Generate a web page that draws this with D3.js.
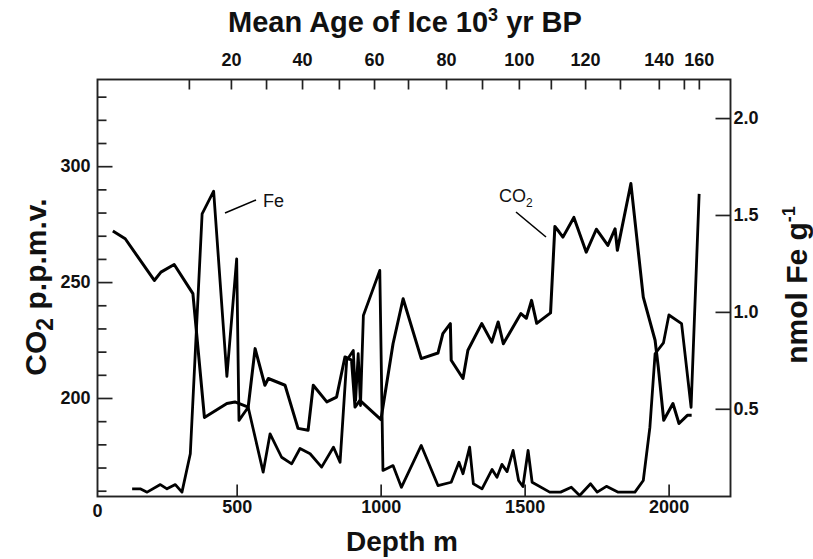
<!DOCTYPE html>
<html><head><meta charset="utf-8">
<script src="https://cdn.jsdelivr.net/npm/d3@7"></script>
<style>body{margin:0;background:#fff}svg{display:block}</style>
</head><body><svg id="c" width="813" height="559"></svg>
<script>
// ---- data (depth in m) ----
const co2Depth = [70,113,214,237,283,348,388,466,494,540,564,598,610,668,713,748,766,813,847,876,899,911,928,1001,1043,1078,1141,1199,1216,1242,1245,1286,1303,1351,1386,1408,1426,1487,1506,1524,1542,1590,1605,1620,1633,1671,1714,1749,1789,1814,1822,1869,1912,1953,1964,1983,2015,2036,2065,2080];
const co2Values = [272.0,268.7,250.7,254.3,257.6,245.0,191.6,197.6,198.3,196.1,221.3,205.5,208.4,205.5,186.9,186.1,205.5,198.3,200.4,217.7,216.3,196.1,199.0,190.7,223.4,242.8,217.0,219.4,227.8,232.1,216.3,208.4,220.6,232.1,224.1,232.8,223.4,236.4,234.4,242.1,232.2,236.7,274.0,271.6,269.4,277.9,262.9,272.8,265.8,273.0,263.7,292.5,243.5,224.9,213.4,190.4,197.6,189.0,192.5,192.5];
const feDepth = [137,165,189,235,258,287,310,339,380,420,466,500,508,540,592,616,656,691,720,755,795,836,859,882,905,913,922,930,940,997,1008,1043,1072,1141,1199,1245,1272,1286,1309,1322,1352,1387,1404,1421,1439,1460,1479,1494,1512,1526,1587,1625,1662,1691,1729,1752,1784,1825,1883,1912,1935,1953,1982,2001,2045,2078,2106];
const feValues = [0.087,0.087,0.070,0.109,0.087,0.109,0.070,0.268,1.506,1.623,0.667,1.274,0.440,0.508,0.173,0.371,0.250,0.216,0.295,0.268,0.199,0.302,0.224,0.749,0.801,0.543,0.784,0.517,0.981,1.214,0.182,0.207,0.095,0.311,0.104,0.121,0.224,0.165,0.302,0.113,0.087,0.187,0.147,0.213,0.176,0.285,0.130,0.099,0.285,0.121,0.070,0.070,0.095,0.053,0.113,0.070,0.100,0.070,0.070,0.130,0.405,0.784,0.840,0.984,0.939,0.508,1.609];

// top axis: mean age of ice (10^3 yr BP) and the depth at which each age falls
const ageTicks = [10,20,30,40,50,60,70,80,90,100,110,120,130,140,150,160];
const ageTickDepth = [334,480,602,727,855,977,1095,1227,1352,1480,1591,1710,1831,1966,2053,2105];
const ageLabels = [20,40,60,80,100,120,140,160];

const depthTicks = [500,1000,1500,2000];
const co2Ticks = [160,170,180,190,200,210,220,230,240,250,260,270,280,290,300,310,320,330];
const co2Labels = [200,250,300];
const feTicks = [0.5,1.0,1.5,2.0];

// ---- layout ----
const L = 97.5, R = 730.5, T = 79.5, B = 496.5;
const svg = d3.select("#c");
const FONT = "'Liberation Sans', Arial, Helvetica, sans-serif";

const x = d3.scaleLinear().domain([16.7, 2214.9]).range([L, R]);
const yC = d3.scaleLinear().domain([157.5, 337.4]).range([B, T]);
const yF = d3.scaleLinear().domain([0.0475, 2.199]).range([B, T]);
const ageX = d3.scaleLinear().domain(ageTicks).range(ageTickDepth.map(d => x(d)));

function styleAxis(g) {
  g.select(".domain").remove();
  g.selectAll(".tick line").attr("stroke", "#222").attr("stroke-width", 1.7);
  g.selectAll(".tick text").attr("fill", "#111").style("font-family", FONT)
    .style("font-weight", "bold").style("font-size", "18px");
}

// bottom axis
svg.append("g").attr("transform", `translate(0,${B})`)
  .call(d3.axisBottom(x).tickValues(depthTicks).tickSizeInner(-12).tickSizeOuter(0).tickPadding(4).tickFormat(d3.format("d")))
  .call(styleAxis);
svg.append("text").attr("x", L).attr("y", B + 20).attr("text-anchor", "middle")
  .style("font-family", FONT).style("font-weight", "bold").style("font-size", "18px").attr("fill", "#111").text("0");

// top axis
svg.append("g").attr("transform", `translate(0,${T})`)
  .call(d3.axisTop(ageX).tickValues(ageTicks).tickSizeInner(-10).tickSizeOuter(0).tickPadding(14)
    .tickFormat(d => ageLabels.includes(d) ? d : ""))
  .call(styleAxis);

// left axis
svg.append("g").attr("transform", `translate(${L},0)`)
  .call(d3.axisLeft(yC).tickValues(co2Ticks).tickSizeOuter(0).tickSizeInner(-9).tickPadding(7)
    .tickFormat(d => co2Labels.includes(d) ? d : ""))
  .call(styleAxis)
  .call(g => g.selectAll(".tick").filter(d => co2Labels.includes(d)).select("line").attr("x2", 15));

// right axis
svg.append("g").attr("transform", `translate(${R},0)`)
  .call(d3.axisRight(yF).tickValues(feTicks).tickSizeOuter(0).tickSizeInner(-15).tickPadding(3).tickFormat(d3.format(".1f")))
  .call(styleAxis);

// frame
svg.append("rect").attr("x", L).attr("y", T).attr("width", R - L).attr("height", B - T)
  .attr("fill", "none").attr("stroke", "#222").attr("stroke-width", 1.9);

// series
const co2Line = d3.line().x(d => x(d[0])).y(d => yC(d[1]));
const feLine = d3.line().x(d => x(d[0])).y(d => yF(d[1]));
svg.append("path").datum(d3.zip(feDepth, feValues)).attr("d", feLine)
  .attr("fill", "none").attr("stroke", "#000").attr("stroke-width", 2.8).attr("stroke-linejoin", "round");
svg.append("path").datum(d3.zip(co2Depth, co2Values)).attr("d", co2Line)
  .attr("fill", "none").attr("stroke", "#000").attr("stroke-width", 3).attr("stroke-linejoin", "round");

// annotations
svg.append("line").attr("x1", 225).attr("y1", 213).attr("x2", 256).attr("y2", 200).attr("stroke", "#000").attr("stroke-width", 1.6);
svg.append("text").attr("x", 263).attr("y", 207).style("font-family", FONT).style("font-size", "18px").attr("fill", "#111").text("Fe");
svg.append("line").attr("x1", 516).attr("y1", 212).attr("x2", 546).attr("y2", 237).attr("stroke", "#000").attr("stroke-width", 1.6);
const co2t = svg.append("text").attr("x", 499).attr("y", 202).style("font-family", FONT).style("font-size", "18px").attr("fill", "#111");
co2t.append("tspan").text("CO");
co2t.append("tspan").attr("dy", 5).style("font-size", "12px").text("2");

// axis titles
const topTitle = svg.append("text").attr("x", 405).attr("y", 32).attr("text-anchor", "middle")
  .style("font-family", FONT).style("font-weight", "bold").style("font-size", "29px").attr("fill", "#111");
topTitle.append("tspan").text("Mean Age of Ice 10");
topTitle.append("tspan").attr("dy", -11).style("font-size", "18px").text("3");
topTitle.append("tspan").attr("dy", 11).text(" yr BP");

svg.append("text").attr("x", 402).attr("y", 551).attr("text-anchor", "middle")
  .style("font-family", FONT).style("font-weight", "bold").style("font-size", "28px").attr("fill", "#111").text("Depth m");

const leftTitle = svg.append("text").attr("transform", "translate(46,287) rotate(-90)").attr("text-anchor", "middle")
  .style("font-family", FONT).style("font-weight", "bold").style("font-size", "30px").attr("fill", "#111");
leftTitle.append("tspan").text("CO");
leftTitle.append("tspan").attr("dy", 7).style("font-size", "23px").text("2");
leftTitle.append("tspan").attr("dy", -7).text(" p.p.m.v.");

const rightTitle = svg.append("text").attr("transform", "translate(807,285) rotate(-90)").attr("text-anchor", "middle")
  .style("font-family", FONT).style("font-weight", "bold").style("font-size", "30px").attr("fill", "#111");
rightTitle.append("tspan").text("nmol Fe g");
rightTitle.append("tspan").attr("dy", -12).style("font-size", "18px").text("-1");
</script>
</body></html>
